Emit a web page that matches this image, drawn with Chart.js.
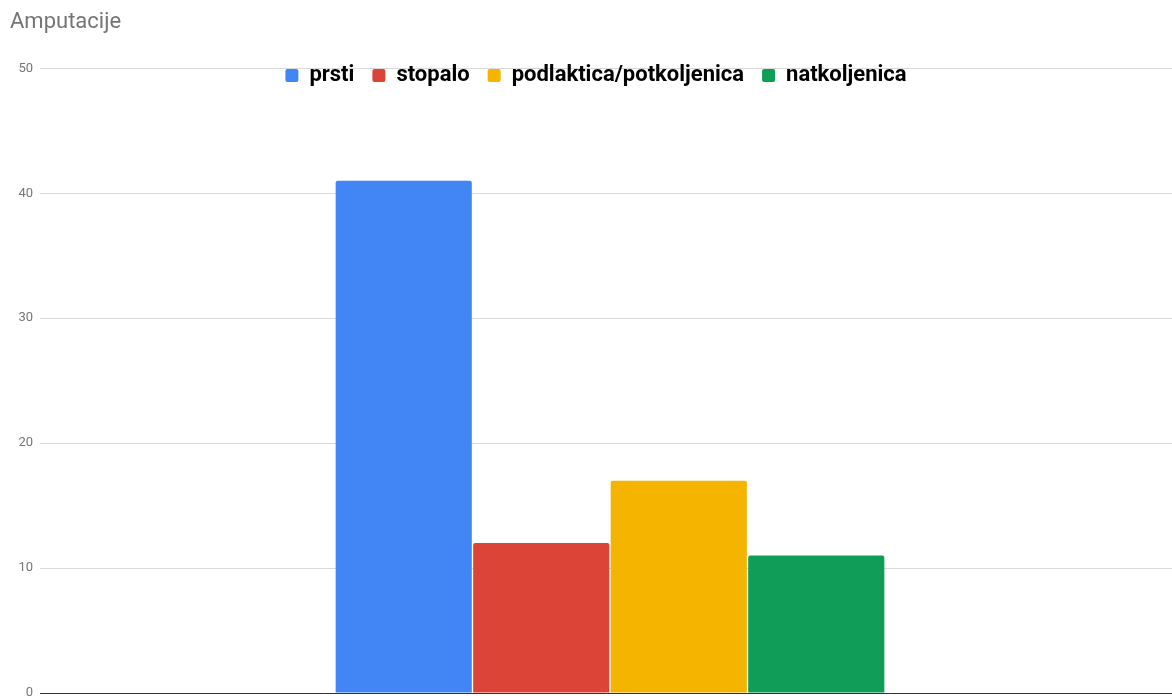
<!DOCTYPE html>
<html>
<head>
<meta charset="utf-8">
<script src="https://cdn.jsdelivr.net/npm/chart.js@4"></script>
<style>
  html, body { margin: 0; padding: 0; background: #fff; }
  #wrap { width: 1172px; height: 696px; }
</style>
</head>
<body>
<div id="wrap"><canvas id="chart"></canvas></div>
<script>
// Data
const categories = [''];
const seriesNames = ['prsti', 'stopalo', 'podlaktica/potkoljenica', 'natkoljenica'];
const seriesValues = [[41], [12], [17], [11]];
const seriesColors = ['#4285F4', '#DB4437', '#F4B400', '#0F9D58'];
const yTicks = [0, 10, 20, 30, 40, 50];

// Legend sits on top of the plot: reserve little space, but don't clip it.
// The category band also runs a bit past the right edge, like the original.
const squeezeLegend = {
    id: 'squeezeLegend',
    beforeInit(chart) {
        const fit = chart.legend.fit;
        chart.legend.fit = function () {
            fit.call(this);
            this.height = 22;
        };
    },
    afterLayout(chart) {
        const legend = chart.legend;
        legend.bottom = legend.top + 60;
        legend.left += 5;
        legend.right += 5;
        const x = chart.scales.x;
        x.right += 8;
        x.width += 8;
        x.configure();
    }
};

const ctx = document.getElementById('chart').getContext('2d');
new Chart(ctx, {
    type: 'bar',
    data: {
        labels: categories,
        datasets: seriesNames.map((name, i) => ({
            label: name,
            data: seriesValues[i],
            backgroundColor: seriesColors[i],
            borderRadius: { topLeft: 2, topRight: 2 },
            borderSkipped: 'bottom',
            categoryPercentage: 0.4825,
            barPercentage: 0.99
        }))
    },
    options: {
        responsive: true,
        maintainAspectRatio: false,
        animation: false,
        layout: { padding: { left: 10, right: 0, top: 0, bottom: 2 } },
        scales: {
            x: {
                afterFit(scale) {
                    scale.height = 1;
                },
                grid: { display: false },
                ticks: { display: false },
                border: { display: true, color: '#333333', width: 1 }
            },
            y: {
                min: 0,
                max: 50,
                afterBuildTicks(scale) {
                    scale.ticks = yTicks.map(v => ({ value: v }));
                },
                afterFit(scale) {
                    scale.width = 30;
                    scale.paddingTop = 0;
                    scale.paddingBottom = 0;
                },
                grid: { color: '#d9d9d9', drawTicks: false },
                border: { display: false },
                ticks: {
                    padding: 7,
                    color: '#757575',
                    font: { family: 'Roboto', size: 13 }
                }
            }
        },
        plugins: {
            title: {
                display: true,
                text: 'Amputacije',
                align: 'start',
                color: '#757575',
                font: { family: 'Roboto', size: 22, weight: 'normal', lineHeight: 1.2 },
                padding: { top: 9, bottom: 11 }
            },
            legend: {
                display: true,
                position: 'top',
                labels: {
                    color: '#000000',
                    font: { family: 'Roboto', size: 22, weight: 'bold' },
                    boxWidth: 13,
                    boxHeight: 13,
                    useBorderRadius: true,
                    borderRadius: 2,
                    padding: 18
                }
            },
            tooltip: { enabled: false }
        }
    },
    plugins: [squeezeLegend]
});
</script>
</body>
</html>
